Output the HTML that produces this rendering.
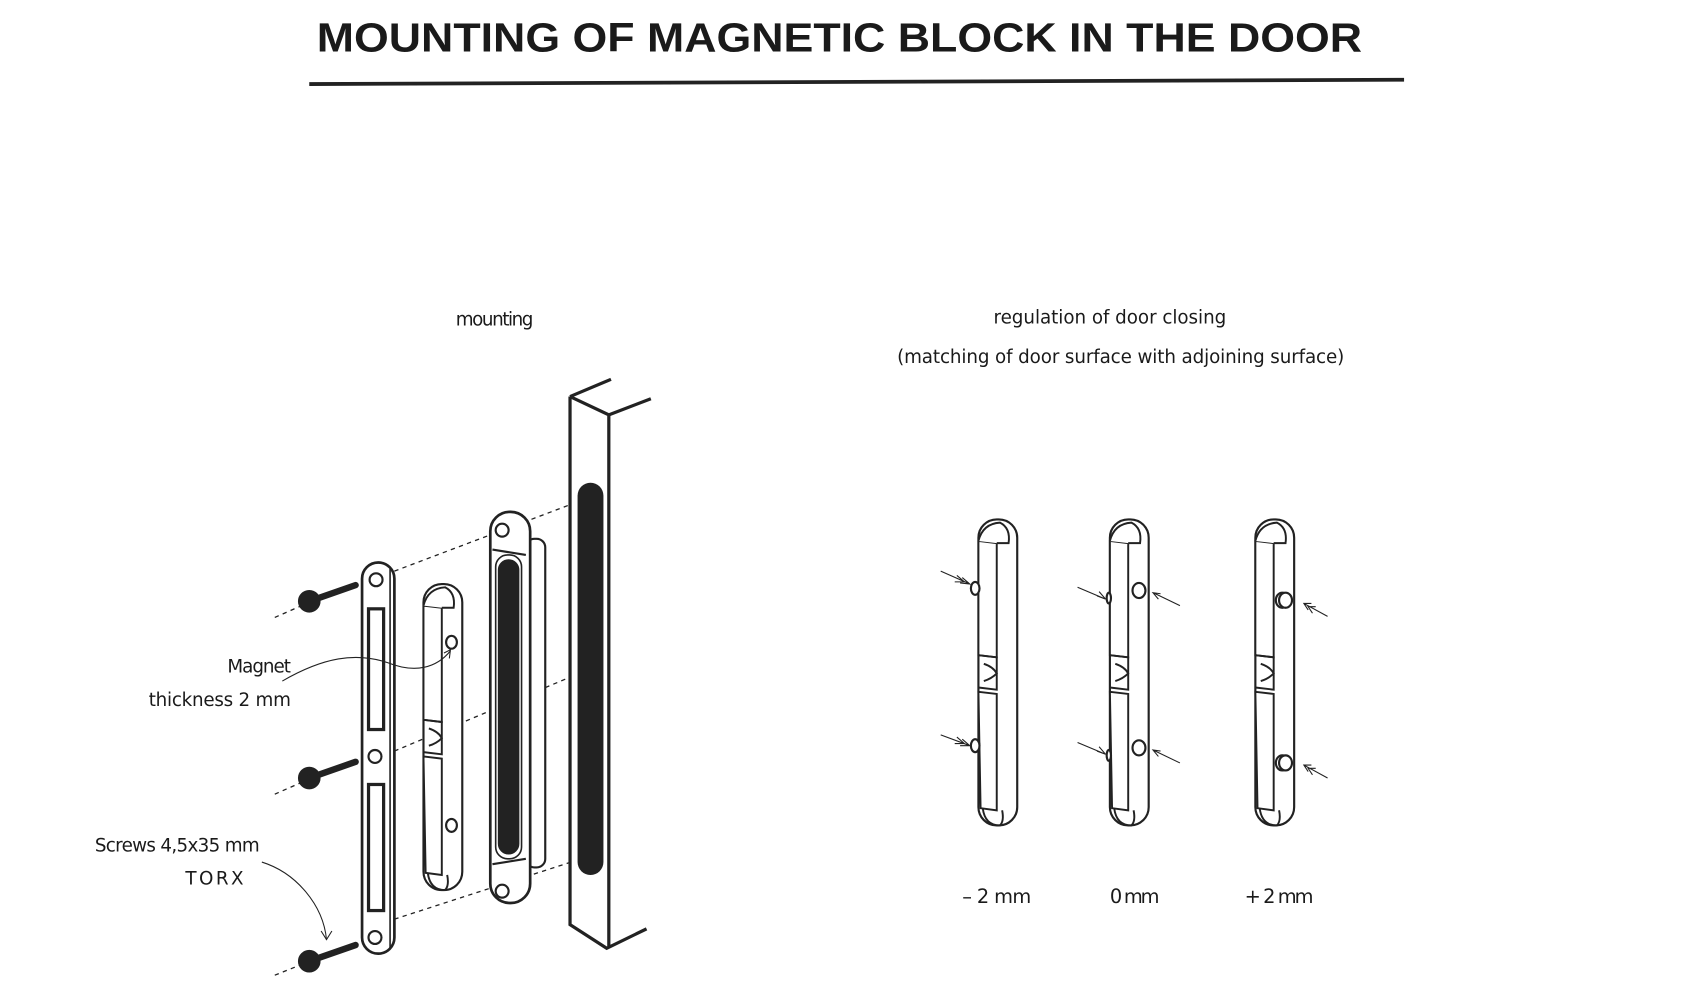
<!DOCTYPE html>
<html><head><meta charset="utf-8"><style>
html,body{margin:0;padding:0;background:#fff;}
svg{display:block;}
text{font-family:"DejaVu Sans","Liberation Sans",sans-serif;fill:#1a1a1a;}
</style></head><body>
<svg width="1681" height="1000" viewBox="0 0 1560 928" xmlns="http://www.w3.org/2000/svg">
<defs>
<g id="rail">
  <rect x="0" y="0" width="36" height="284" rx="17" fill="#fff" stroke="#222" stroke-width="2"/>
  <path d="M0 20 L17 22 L17 128 L0 126 Z" fill="#fff" stroke="#222" stroke-width="1.8"/>
  <path d="M0 20 Q4 4 20 3 Q30 8 28 22 L17 22" fill="#fff" stroke="#222" stroke-width="1.8"/>
  <path d="M0 126 L17 128 L17 158 L0 156" fill="none" stroke="#222" stroke-width="1.8"/>
  <path d="M5 134 Q14 137 17 143 Q12 148 5 150" fill="none" stroke="#222" stroke-width="1.8"/>
  <path d="M0 160 L17 162 L17 270 L2 268 Z" fill="#fff" stroke="#222" stroke-width="1.8"/>
  <path d="M4 268 Q6 284 20 284 Q24 280 22 270" fill="none" stroke="#222" stroke-width="1.8"/>
</g>
</defs>
<text x="779" y="48" text-anchor="middle" font-size="38" font-weight="bold" textLength="970" lengthAdjust="spacingAndGlyphs" style="font-family:'Liberation Sans Narrow','Liberation Sans',sans-serif">MOUNTING OF MAGNETIC BLOCK IN THE DOOR</text>
<path d="M287 78 L1303 74" stroke="#222" stroke-width="3.5" fill="none"/>

<text x="459" y="302" text-anchor="middle" font-size="17" textLength="72">mounting</text>
<text x="1030" y="300" text-anchor="middle" font-size="17" textLength="216">regulation of door closing</text>
<text x="1040" y="337" text-anchor="middle" font-size="17" textLength="415">(matching of door surface with adjoining surface)</text>
<text x="270" y="624" text-anchor="end" font-size="17" textLength="59">Magnet</text>
<text x="270" y="655" text-anchor="end" font-size="17" textLength="132">thickness 2 mm</text>
<text x="241" y="790" text-anchor="end" font-size="17" textLength="153">Screws 4,5x35 mm</text>
<text x="226" y="821" text-anchor="end" font-size="17" textLength="54">TORX</text>

<g stroke="#222" stroke-width="1.2" stroke-dasharray="4,4" fill="none">
<path d="M255 573 L280 562"/><path d="M255 737 L280 726"/><path d="M255 905 L280 895"/>
<path d="M366 530 L530 468"/><path d="M366 697 L530 628"/><path d="M366 853 L530 800"/>
</g>
<g fill="#222" stroke="#222">
<circle cx="287" cy="558" r="10"/><path d="M287 558 L330 543" stroke-width="6" stroke-linecap="round"/>
<circle cx="287" cy="722" r="10"/><path d="M287 722 L330 707" stroke-width="6" stroke-linecap="round"/>
<circle cx="287" cy="892" r="10"/><path d="M287 892 L330 877" stroke-width="6" stroke-linecap="round"/>
</g>
<rect x="336" y="522" width="30" height="363" rx="15" fill="#fff" stroke="#222" stroke-width="2.5"/>
<path d="M362 528 L362 880" stroke="#222" stroke-width="1.5"/>
<rect x="342" y="565" width="14" height="112" fill="#fff" stroke="#222" stroke-width="3"/>
<rect x="342" y="728" width="14" height="117" fill="#fff" stroke="#222" stroke-width="3"/>
<g fill="#fff" stroke="#222" stroke-width="2"><circle cx="349" cy="538" r="6"/><circle cx="348" cy="702" r="6"/><circle cx="348" cy="870" r="6"/></g>
<g transform="translate(393,542)"><use href="#rail"/></g>
<g fill="#fff" stroke="#222" stroke-width="2"><ellipse cx="419" cy="596" rx="5" ry="6"/><ellipse cx="419" cy="766" rx="5" ry="6"/></g>
<rect x="488" y="500" width="18" height="305" rx="8" fill="#fff" stroke="#222" stroke-width="2"/>
<rect x="455" y="475" width="37" height="363" rx="18" fill="#fff" stroke="#222" stroke-width="2.5"/>
<path d="M457 510 L488 515 M457 802 L488 797" stroke="#222" stroke-width="2"/>
<rect x="463" y="520" width="18" height="272" rx="9" fill="#222" stroke="#222" stroke-width="2"/>
<rect x="460" y="515" width="24" height="282" rx="11" fill="none" stroke="#222" stroke-width="1.5"/>
<g fill="#fff" stroke="#222" stroke-width="2"><circle cx="466" cy="492" r="6"/><circle cx="466" cy="827" r="6"/></g>
<g stroke="#222" stroke-width="3" fill="none">
<path d="M529 368 L567 352 M529 368 L565 385 L604 370 M565 385 L565 880 M529 368 L529 858 L563 880 L600 862"/>
</g>
<rect x="536" y="448" width="24" height="364" rx="12" fill="#222"/>
<g stroke="#222" stroke-width="1" fill="none">
<path d="M262 632 C300 610 330 605 360 615 C385 625 405 620 418 604"/>
<path d="M412 606 L418 603 L417 611"/>
<path d="M243 800 C275 810 300 840 303 872"/>
<path d="M298 864 L303 872 L308 864"/>
</g>
<use href="#rail" transform="translate(908,482)"/>
<use href="#rail" transform="translate(1030,482)"/>
<use href="#rail" transform="translate(1165,482)"/>
<g fill="#fff" stroke="#222" stroke-width="2">
<ellipse cx="905" cy="546" rx="4" ry="6"/><ellipse cx="905" cy="692" rx="4" ry="6"/>
<ellipse cx="1057" cy="548" rx="6" ry="7"/><ellipse cx="1057" cy="694" rx="6" ry="7"/>
<ellipse cx="1029" cy="555" rx="2" ry="5"/><ellipse cx="1029" cy="701" rx="2" ry="5"/>
<ellipse cx="1190" cy="557" rx="6" ry="7"/><ellipse cx="1193" cy="557" rx="6" ry="7"/>
<ellipse cx="1190" cy="708" rx="6" ry="7"/><ellipse cx="1193" cy="708" rx="6" ry="7"/>
</g>
<g stroke="#222" stroke-width="1" fill="none">
<path d="M873 530 L900 542 M893 536 L900 542 L891 541 M888 534 L895 540 L886 540"/>
<path d="M873 682 L900 692 M893 686 L900 692 L891 692 M888 684 L895 690 L886 690"/>
<path d="M1000 545 L1026 556 M1018 553 L1026 556 L1020 549"/>
<path d="M1000 689 L1026 700 M1018 697 L1026 700 L1020 693"/>
<path d="M1095 562 L1070 550 M1077 551 L1070 550 L1075 556"/>
<path d="M1095 708 L1070 696 M1077 697 L1070 696 L1075 702"/>
<path d="M1232 572 L1210 560 M1217 560 L1210 560 L1214 566 M1221 563 L1214 563 L1218 569"/>
<path d="M1232 722 L1210 710 M1217 710 L1210 710 L1214 716 M1221 713 L1214 713 L1218 719"/>
</g>
<text x="925" y="838" text-anchor="middle" font-size="18" textLength="64">– 2 mm</text>
<text x="1053" y="838" text-anchor="middle" font-size="18" textLength="46">0 mm</text>
<text x="1187" y="838" text-anchor="middle" font-size="18" textLength="64">+ 2 mm</text>
</svg>
</body></html>
